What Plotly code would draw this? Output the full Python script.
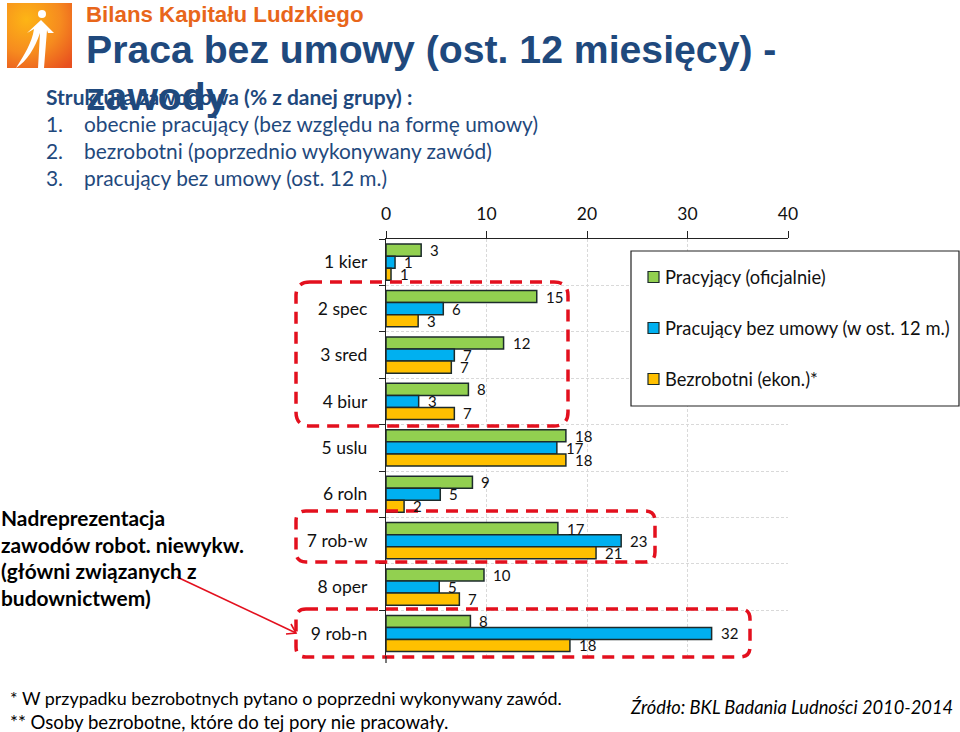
import base64
import plotly.graph_objects as go

categories = ["1 kier", "2 spec", "3 sred", "4 biur", "5 uslu", "6 roln", "7 rob-w", "8 oper", "9 rob-n"]
series_names = ["Pracyjący (oficjalnie)", "Pracujący bez umowy (w ost. 12 m.)", "Bezrobotni (ekon.)*"]
series_colors = ["#92D050", "#00B0F0", "#FFC000"]
green_values = [3.5, 15.0, 11.7, 8.2, 17.9, 8.6, 17.1, 9.75, 8.4]
blue_values = [0.9, 5.7, 6.8, 3.25, 17.0, 5.4, 23.4, 5.3, 32.4]
yellow_values = [0.5, 3.2, 6.5, 6.8, 17.9, 1.8, 20.9, 7.3, 18.3]
green_labels = [3, 15, 12, 8, 18, 9, 17, 10, 8]
blue_labels = [1, 6, 7, 3, 17, 5, 23, 5, 32]
yellow_labels = [1, 3, 7, 7, 18, 2, 21, 7, 18]
x_ticks = [0, 10, 20, 30, 40]

W, H = 960, 732
FONT = "Lato"
NAVY = "#1F497D"
RED = "#E3101E"
def px(x): return x / W
def py(y): return 1 - y / H

fig = go.Figure()
for name, vals, color in zip(series_names, [green_values, blue_values, yellow_values], series_colors):
    fig.add_trace(go.Bar(y=categories, x=vals, name=name, orientation="h", showlegend=False,
                         marker=dict(color=color, line=dict(color="#1c2b2b", width=1.5))))

ann = []
for labels, vals, shift in [(green_labels, green_values, 12), (blue_labels, blue_values, 0), (yellow_labels, yellow_values, -12)]:
    for c, v, l in zip(categories, vals, labels):
        ann.append(dict(x=v, y=c, xref="x", yref="y", text=str(l), showarrow=False, xanchor="left",
                        xshift=8, yshift=shift, font=dict(family=FONT, size=15, color="#111"), borderpad=0))

def text(x, y, s, size, color="black", bold=False, italic=False, family=FONT):
    t = f"<b>{s}</b>" if bold else s
    t = f"<i>{t}</i>" if italic else t
    ann.append(dict(x=px(x), y=py(y), xref="paper", yref="paper", text=t, showarrow=False, xanchor="left",
                    yanchor="middle", font=dict(family=family, size=size, color=color), borderpad=0, xshift=0))

text(85, 15, "Bilans Kapitału Ludzkiego", 22.3, "#E8661A", True, family="Liberation Sans")
text(85, 50, "Praca bez umowy (ost. 12 miesięcy) -", 39.2, NAVY, True, family="Liberation Sans")
text(85, 97, "zawody", 39.2, NAVY, True, family="Liberation Sans")
text(45, 97, "Struktura zawodowa (% z danej grupy) :", 21, NAVY, True)
for yy, n, s in [(124, "1.", "obecnie pracujący (bez względu na formę umowy)"),
                 (151, "2.", "bezrobotni (poprzednio wykonywany zawód)"),
                 (178, "3.", "pracujący bez umowy (ost. 12 m.)")]:
    text(45, yy, n, 20.9, NAVY)
    text(83, yy, s, 20.9, NAVY)
for yy, s in [(517, "Nadreprezentacja"), (544, "zawodów robot. niewykw."), (570, "(główni związanych z"), (597, "budownictwem)")]:
    text(0, yy, s, 20.9, "black", True)
text(9, 698, "* W przypadku bezrobotnych pytano o poprzedni wykonywany zawód.", 17.9)
text(9, 722, "** Osoby bezrobotne, które do tej pory nie pracowały.", 18.6)
text(629, 707, "Źródło: BKL Badania Ludności 2010-2014", 18.3, italic=True)

def rbox(x0, y0, x1, y1, r=14):
    a, b, c, d = px(x0), px(x1), py(y0), py(y1)
    rx, ry = r / W, r / H
    return dict(type="path", xref="paper", yref="paper", layer="above",
                path=f"M{a+rx},{c} L{b-rx},{c} Q{b},{c} {b},{c-ry} L{b},{d+ry} Q{b},{d} {b-rx},{d} L{a+rx},{d} Q{a},{d} {a},{d+ry} L{a},{c-ry} Q{a},{c} {a+rx},{c} Z",
                line=dict(color=RED, width=3.5, dash="12px,8px"))

def poly(pts):
    return "M" + " L".join(f"{px(x)},{py(y)}" for x, y in pts)

shapes = [
    dict(type="rect", xref="paper", yref="paper", layer="above", x0=px(631), x1=px(959), y0=py(251), y1=py(406),
         fillcolor="white", line=dict(color="#222", width=1.2)),
    rbox(296, 282, 568, 426), rbox(296, 511, 655, 562, 10), rbox(296, 609, 750, 657, 10),
    dict(type="path", xref="paper", yref="paper", layer="above", path=poly([(177, 577), (296, 633)]), line=dict(color=RED, width=1.6)),
    dict(type="path", xref="paper", yref="paper", layer="above", path=poly([(286, 634), (296, 633), (291, 624)]), line=dict(color=RED, width=1.6)),
    dict(type="line", xref="paper", yref="paper", layer="above", x0=px(386), x1=px(386), y0=py(656), y1=py(663), line=dict(color="#222", width=1.2)),
]
for yy, name, color in zip([277, 328, 379], series_names, series_colors):
    shapes.append(dict(type="rect", xref="paper", yref="paper", layer="above", x0=px(648), x1=px(659), y0=py(yy - 5.5), y1=py(yy + 5.5),
                       fillcolor=color, line=dict(color="#1c2b2b", width=1.2)))
    text(664, yy, name, 18.3, "#111")

svg = """<svg xmlns='http://www.w3.org/2000/svg' width='65' height='65' viewBox='0 0 65 65'>
<defs><radialGradient id='g' cx='0.3' cy='0.25' r='0.95'><stop offset='0' stop-color='#FDB515'/><stop offset='0.55' stop-color='#F68B1F'/><stop offset='1' stop-color='#E8501F'/></radialGradient></defs>
<rect width='65' height='65' fill='url(#g)'/>
<circle cx='35' cy='11' r='4' fill='white'/>
<path d='M20 30 L34 17 L47 30 L41 30 L40 27 L37 65 L31 65 L33 30 C28 45 20 58 9 65 C17 52 25 40 27 26 Z' fill='white'/>
</svg>"""
logo = "data:image/svg+xml;base64," + base64.b64encode(svg.encode()).decode()

fig.update_layout(
    width=W, height=H, autosize=False, margin=dict(l=0, r=0, t=0, b=0), paper_bgcolor="white", plot_bgcolor="white",
    barmode="group", bargap=0.22, bargroupgap=0, font=dict(family=FONT, size=17, color="#111"),
    xaxis=dict(domain=[px(386), px(788)], range=[0, 40], side="top", tickvals=x_ticks, ticks="outside", ticklen=7,
               tickcolor="#222", showline=True, linecolor="#222", linewidth=1.2, gridcolor="#d9d9d9", griddash="3px,2px",
               gridwidth=1, zeroline=False, ticklabelstandoff=4, tickfont=dict(family=FONT, size=17.5), automargin=False),
    yaxis=dict(domain=[py(656.7), py(239)], autorange="reversed", type="category", tickson="boundaries", ticks="outside",
               ticklen=6, tickcolor="#222", showline=True, linecolor="#222", linewidth=1.2, gridcolor="#d9d9d9", griddash="3px,2px",
               gridwidth=1, zeroline=False, ticklabelstandoff=14, tickfont=dict(family=FONT, size=17.5), automargin=False),
    showlegend=False, annotations=ann, shapes=shapes,
    images=[dict(source=logo, xref="paper", yref="paper", x=px(7), y=py(3), sizex=65 / W, sizey=65 / H,
                 xanchor="left", yanchor="top", sizing="stretch", layer="above")],
)
fig.write_html("out.html", config={"displayModeBar": False}, post_script="document.body.style.margin='0';")
